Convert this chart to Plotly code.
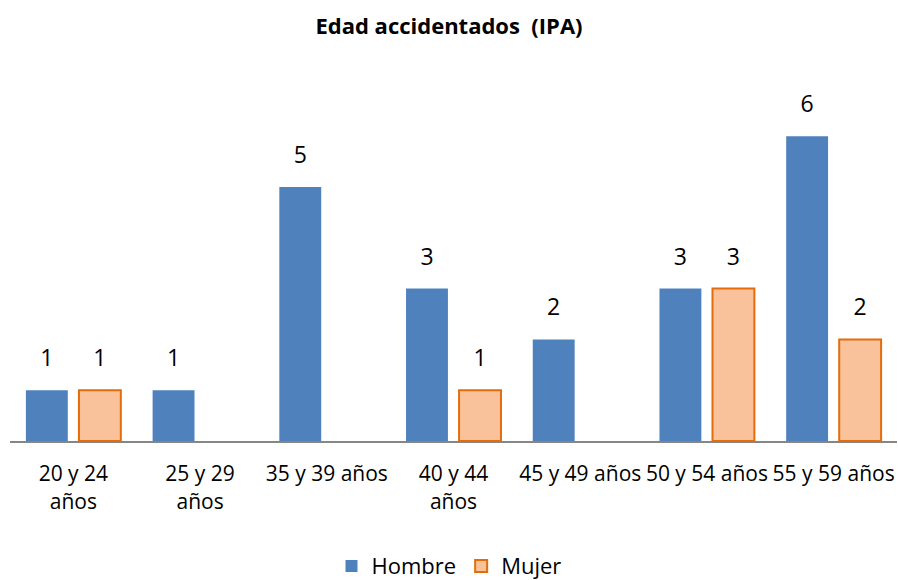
import plotly.graph_objects as go

categories = ["20 y 24<br>años", "25 y 29<br>años", "35 y 39 años", "40 y 44<br>años",
              "45 y 49 años", "50 y 54 años", "55 y 59 años"]
hombre = [1, 1, 5, 3, 2, 3, 6]
mujer = [1, None, None, 1, None, 3, 2]

def labels(vals):
    return [("" if v is None else f"<span style='font-size:23px'>{v}</span><br> ") for v in vals]

fig = go.Figure()
fig.add_trace(go.Bar(
    name="Hombre", x=categories, y=hombre,
    marker=dict(color="#4F81BD", line=dict(width=0)),
    text=labels(hombre), textposition="outside", cliponaxis=False,
    textfont=dict(size=13, color="#000000"),
))
fig.add_trace(go.Bar(
    name="Mujer", x=categories, y=mujer,
    marker=dict(color="#F9C29A", line=dict(color="#E46C0A", width=2)),
    text=labels(mujer), textposition="outside", cliponaxis=False,
    textfont=dict(size=13, color="#000000"),
))

fig.update_layout(
    width=898, height=580,
    paper_bgcolor="white", plot_bgcolor="white",
    font=dict(family="Open Sans", color="#000000"),
    title=dict(text="<b>Edad accidentados  (IPA)</b>", x=0.5, xanchor="center",
               y=0.968, yanchor="top", yref="container",
               font=dict(size=22, family="Open Sans")),
    margin=dict(l=10, r=1, t=60, b=139),
    barmode="group", bargap=0.163, bargroupgap=0.21,
    showlegend=True,
    legend=dict(orientation="h", x=0.5, xanchor="center", xref="container",
                y=0.024, yanchor="middle", yref="container",
                font=dict(size=22), itemwidth=30),
    xaxis=dict(showline=True, linecolor="#868686", linewidth=2, ticks="",
               tickfont=dict(size=21), showgrid=False, automargin=False,
               ticklabelstandoff=13),
    yaxis=dict(visible=False, range=[0, 7.5], showgrid=False, zeroline=False,
               automargin=False),
)

fig.write_html("out.html", config={"displayModeBar": False},
               post_script="document.body.style.margin='0';")
